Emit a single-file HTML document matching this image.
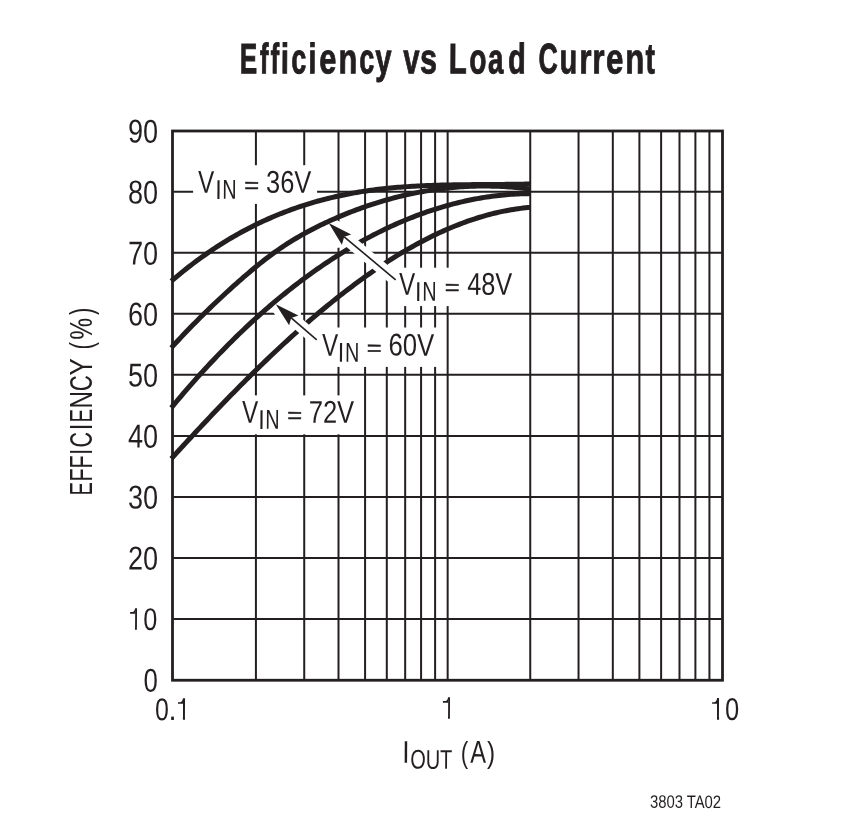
<!DOCTYPE html>
<html><head><meta charset="utf-8"><style>
html,body{margin:0;padding:0;background:#fff;width:857px;height:825px;overflow:hidden}
svg{display:block;will-change:transform}
text{font-family:"Liberation Sans",sans-serif}
</style></head><body><svg width="857" height="825" viewBox="0 0 857 825"><g stroke="#231f20" stroke-width="2"><line x1="255.92" y1="130.70" x2="255.92" y2="680.06"/><line x1="304.22" y1="130.70" x2="304.22" y2="680.06"/><line x1="338.50" y1="130.70" x2="338.50" y2="680.06"/><line x1="365.08" y1="130.70" x2="365.08" y2="680.06"/><line x1="386.80" y1="130.70" x2="386.80" y2="680.06"/><line x1="405.17" y1="130.70" x2="405.17" y2="680.06"/><line x1="421.08" y1="130.70" x2="421.08" y2="680.06"/><line x1="435.11" y1="130.70" x2="435.11" y2="680.06"/><line x1="447.66" y1="130.70" x2="447.66" y2="680.06"/><line x1="530.24" y1="130.70" x2="530.24" y2="680.06"/><line x1="578.54" y1="130.70" x2="578.54" y2="680.06"/><line x1="612.82" y1="130.70" x2="612.82" y2="680.06"/><line x1="639.40" y1="130.70" x2="639.40" y2="680.06"/><line x1="661.12" y1="130.70" x2="661.12" y2="680.06"/><line x1="679.49" y1="130.70" x2="679.49" y2="680.06"/><line x1="695.40" y1="130.70" x2="695.40" y2="680.06"/><line x1="709.43" y1="130.70" x2="709.43" y2="680.06"/><line x1="173.34" y1="619.02" x2="721.98" y2="619.02"/><line x1="173.34" y1="557.98" x2="721.98" y2="557.98"/><line x1="173.34" y1="496.94" x2="721.98" y2="496.94"/><line x1="173.34" y1="435.90" x2="721.98" y2="435.90"/><line x1="173.34" y1="374.86" x2="721.98" y2="374.86"/><line x1="173.34" y1="313.82" x2="721.98" y2="313.82"/><line x1="173.34" y1="252.78" x2="721.98" y2="252.78"/><line x1="173.34" y1="191.74" x2="721.98" y2="191.74"/></g><rect x="193.1" y="165.2" width="124.0" height="38.7" fill="#fff"/><rect x="390.0" y="267.7" width="130.0" height="38.4" fill="#fff"/><rect x="306.0" y="327.5" width="134.0" height="39.4" fill="#fff"/><rect x="236.0" y="395.4" width="124.0" height="38.9" fill="#fff"/><path d="M171.30,458.71 L173.71,456.06 L176.12,453.41 L178.53,450.78 L180.94,448.14 L183.35,445.52 L185.76,442.90 L188.17,440.29 L190.58,437.68 L192.98,435.09 L195.39,432.50 L197.80,429.91 L200.21,427.34 L202.62,424.77 L205.03,422.21 L207.44,419.66 L209.85,417.11 L212.26,414.58 L214.67,412.05 L217.08,409.53 L219.49,407.02 L221.90,404.52 L224.31,402.03 L226.72,399.54 L229.13,397.07 L231.53,394.60 L233.94,392.15 L236.35,389.70 L238.76,387.27 L241.17,384.84 L243.58,382.42 L245.99,380.02 L248.40,377.62 L250.81,375.24 L253.22,372.86 L255.63,370.50 L258.04,368.15 L260.45,365.80 L262.86,363.47 L265.27,361.15 L267.68,358.85 L270.09,356.55 L272.49,354.26 L274.90,351.99 L277.31,349.73 L279.72,347.48 L282.13,345.25 L284.54,343.02 L286.95,340.81 L289.36,338.61 L291.77,336.43 L294.18,334.26 L296.59,332.10 L299.00,329.95 L301.41,327.82 L303.82,325.70 L306.23,323.59 L308.64,321.50 L311.04,319.42 L313.45,317.36 L315.86,315.31 L318.27,313.28 L320.68,311.26 L323.09,309.25 L325.50,307.26 L327.91,305.29 L330.32,303.33 L332.73,301.38 L335.14,299.45 L337.55,297.54 L339.96,295.64 L342.37,293.76 L344.78,291.89 L347.19,290.04 L349.60,288.21 L352.00,286.39 L354.41,284.59 L356.82,282.80 L359.23,281.03 L361.64,279.28 L364.05,277.55 L366.46,275.83 L368.87,274.14 L371.28,272.45 L373.69,270.79 L376.10,269.15 L378.51,267.52 L380.92,265.91 L383.33,264.32 L385.74,262.74 L388.15,261.19 L390.56,259.65 L392.96,258.14 L395.37,256.64 L397.78,255.16 L400.19,253.70 L402.60,252.26 L405.01,250.84 L407.42,249.44 L409.83,248.06 L412.24,246.70 L414.65,245.35 L417.06,244.03 L419.47,242.73 L421.88,241.45 L424.29,240.19 L426.70,238.96 L429.11,237.74 L431.51,236.54 L433.92,235.37 L436.33,234.21 L438.74,233.08 L441.15,231.97 L443.56,230.88 L445.97,229.81 L448.38,228.77 L450.79,227.74 L453.20,226.74 L455.61,225.77 L458.02,224.81 L460.43,223.88 L462.84,222.97 L465.25,222.08 L467.66,221.22 L470.07,220.38 L472.47,219.56 L474.88,218.77 L477.29,218.00 L479.70,217.26 L482.11,216.53 L484.52,215.84 L486.93,215.17 L489.34,214.52 L491.75,213.89 L494.16,213.30 L496.57,212.72 L498.98,212.17 L501.39,211.65 L503.80,211.15 L506.21,210.68 L508.62,210.23 L511.02,209.81 L513.43,209.41 L515.84,209.04 L518.25,208.70 L520.66,208.38 L523.07,208.09 L525.48,207.83 L527.89,207.59 L530.30,207.38" fill="none" stroke="#231f20" stroke-width="5"/><path d="M275.78,304.34 L298.40,315.43 L291.20,317.90 L289.10,325.19 Z" fill="#fff" stroke="#fff" stroke-width="12.60" stroke-linejoin="bevel"/><line x1="291.20" y1="317.90" x2="316.76" y2="339.79" stroke="#fff" stroke-width="12.60"/><path d="M275.78,304.34 L298.40,315.43 L291.20,317.90 L289.10,325.19 Z" fill="#231f20"/><line x1="291.20" y1="317.90" x2="316.76" y2="339.79" stroke="#231f20" stroke-width="1.6"/><path d="M171.30,407.79 L173.71,404.88 L176.12,401.99 L178.53,399.12 L180.94,396.28 L183.35,393.45 L185.76,390.65 L188.17,387.86 L190.58,385.10 L192.98,382.36 L195.39,379.65 L197.80,376.95 L200.21,374.27 L202.62,371.62 L205.03,368.99 L207.44,366.37 L209.85,363.78 L212.26,361.21 L214.67,358.66 L217.08,356.14 L219.49,353.63 L221.90,351.14 L224.31,348.68 L226.72,346.23 L229.13,343.81 L231.53,341.41 L233.94,339.02 L236.35,336.66 L238.76,334.32 L241.17,332.00 L243.58,329.70 L245.99,327.42 L248.40,325.16 L250.81,322.92 L253.22,320.71 L255.63,318.51 L258.04,316.33 L260.45,314.17 L262.86,312.04 L265.27,309.92 L267.68,307.82 L270.09,305.74 L272.49,303.69 L274.90,301.65 L277.31,299.63 L279.72,297.64 L282.13,295.66 L284.54,293.70 L286.95,291.76 L289.36,289.85 L291.77,287.95 L294.18,286.07 L296.59,284.21 L299.00,282.37 L301.41,280.55 L303.82,278.75 L306.23,276.97 L308.64,275.21 L311.04,273.47 L313.45,271.75 L315.86,270.04 L318.27,268.36 L320.68,266.69 L323.09,265.05 L325.50,263.42 L327.91,261.81 L330.32,260.22 L332.73,258.65 L335.14,257.10 L337.55,255.57 L339.96,254.06 L342.37,252.57 L344.78,251.09 L347.19,249.63 L349.60,248.20 L352.00,246.78 L354.41,245.38 L356.82,244.00 L359.23,242.63 L361.64,241.29 L364.05,239.96 L366.46,238.65 L368.87,237.36 L371.28,236.09 L373.69,234.84 L376.10,233.61 L378.51,232.39 L380.92,231.19 L383.33,230.02 L385.74,228.86 L388.15,227.71 L390.56,226.59 L392.96,225.49 L395.37,224.40 L397.78,223.33 L400.19,222.28 L402.60,221.25 L405.01,220.24 L407.42,219.25 L409.83,218.28 L412.24,217.32 L414.65,216.38 L417.06,215.46 L419.47,214.56 L421.88,213.68 L424.29,212.82 L426.70,211.98 L429.11,211.15 L431.51,210.35 L433.92,209.56 L436.33,208.79 L438.74,208.04 L441.15,207.31 L443.56,206.60 L445.97,205.91 L448.38,205.23 L450.79,204.58 L453.20,203.94 L455.61,203.32 L458.02,202.72 L460.43,202.14 L462.84,201.58 L465.25,201.04 L467.66,200.52 L470.07,200.01 L472.47,199.53 L474.88,199.06 L477.29,198.61 L479.70,198.18 L482.11,197.77 L484.52,197.38 L486.93,197.01 L489.34,196.66 L491.75,196.33 L494.16,196.01 L496.57,195.72 L498.98,195.44 L501.39,195.19 L503.80,194.95 L506.21,194.73 L508.62,194.53 L511.02,194.35 L513.43,194.19 L515.84,194.05 L518.25,193.92 L520.66,193.82 L523.07,193.74 L525.48,193.67 L527.89,193.63 L530.30,193.60" fill="none" stroke="#231f20" stroke-width="5"/><path d="M328.69,223.02 L351.20,234.43 L344.20,236.80 L341.89,244.79 Z" fill="#fff" stroke="#fff" stroke-width="12.60" stroke-linejoin="bevel"/><line x1="344.20" y1="236.80" x2="395.66" y2="279.89" stroke="#fff" stroke-width="12.60"/><path d="M328.69,223.02 L351.20,234.43 L344.20,236.80 L341.89,244.79 Z" fill="#231f20"/><line x1="344.20" y1="236.80" x2="395.66" y2="279.89" stroke="#231f20" stroke-width="1.6"/><path d="M171.30,347.81 L173.71,345.16 L176.12,342.53 L178.53,339.93 L180.94,337.36 L183.35,334.81 L185.76,332.29 L188.17,329.79 L190.58,327.31 L192.98,324.85 L195.39,322.41 L197.80,319.99 L200.21,317.59 L202.62,315.20 L205.03,312.83 L207.44,310.48 L209.85,308.14 L212.26,305.82 L214.67,303.52 L217.08,301.23 L219.49,298.96 L221.90,296.71 L224.31,294.47 L226.72,292.25 L229.13,290.04 L231.53,287.85 L233.94,285.68 L236.35,283.53 L238.76,281.39 L241.17,279.27 L243.58,277.17 L245.99,275.09 L248.40,273.03 L250.81,270.99 L253.22,268.98 L255.63,266.99 L258.04,265.02 L260.45,263.09 L262.86,261.18 L265.27,259.31 L267.68,257.46 L270.09,255.65 L272.49,253.87 L274.90,252.13 L277.31,250.43 L279.72,248.76 L282.13,247.13 L284.54,245.52 L286.95,243.96 L289.36,242.42 L291.77,240.92 L294.18,239.44 L296.59,238.00 L299.00,236.58 L301.41,235.20 L303.82,233.84 L306.23,232.51 L308.64,231.21 L311.04,229.93 L313.45,228.68 L315.86,227.45 L318.27,226.25 L320.68,225.06 L323.09,223.91 L325.50,222.77 L327.91,221.65 L330.32,220.55 L332.73,219.48 L335.14,218.42 L337.55,217.38 L339.96,216.36 L342.37,215.35 L344.78,214.36 L347.19,213.39 L349.60,212.44 L352.00,211.50 L354.41,210.58 L356.82,209.68 L359.23,208.79 L361.64,207.92 L364.05,207.07 L366.46,206.23 L368.87,205.42 L371.28,204.61 L373.69,203.83 L376.10,203.06 L378.51,202.31 L380.92,201.58 L383.33,200.86 L385.74,200.16 L388.15,199.48 L390.56,198.82 L392.96,198.17 L395.37,197.54 L397.78,196.92 L400.19,196.32 L402.60,195.74 L405.01,195.18 L407.42,194.63 L409.83,194.10 L412.24,193.59 L414.65,193.09 L417.06,192.61 L419.47,192.15 L421.88,191.71 L424.29,191.28 L426.70,190.87 L429.11,190.47 L431.51,190.09 L433.92,189.73 L436.33,189.39 L438.74,189.06 L441.15,188.75 L443.56,188.46 L445.97,188.18 L448.38,187.92 L450.79,187.68 L453.20,187.45 L455.61,187.25 L458.02,187.05 L460.43,186.88 L462.84,186.72 L465.25,186.58 L467.66,186.45 L470.07,186.34 L472.47,186.25 L474.88,186.18 L477.29,186.12 L479.70,186.08 L482.11,186.05 L484.52,186.05 L486.93,186.06 L489.34,186.08 L491.75,186.13 L494.16,186.18 L496.57,186.26 L498.98,186.35 L501.39,186.46 L503.80,186.59 L506.21,186.73 L508.62,186.89 L511.02,187.07 L513.43,187.26 L515.84,187.47 L518.25,187.70 L520.66,187.94 L523.07,188.21 L525.48,188.48 L527.89,188.78 L530.30,189.09" fill="none" stroke="#231f20" stroke-width="5"/><path d="M171.30,281.18 L173.71,279.12 L176.12,277.08 L178.53,275.08 L180.94,273.10 L183.35,271.15 L185.76,269.23 L188.17,267.33 L190.58,265.47 L192.98,263.63 L195.39,261.82 L197.80,260.03 L200.21,258.28 L202.62,256.54 L205.03,254.84 L207.44,253.16 L209.85,251.51 L212.26,249.88 L214.67,248.28 L217.08,246.70 L219.49,245.15 L221.90,243.63 L224.31,242.13 L226.72,240.65 L229.13,239.20 L231.53,237.77 L233.94,236.37 L236.35,234.99 L238.76,233.63 L241.17,232.30 L243.58,230.99 L245.99,229.71 L248.40,228.44 L250.81,227.21 L253.22,225.99 L255.63,224.79 L258.04,223.62 L260.45,222.47 L262.86,221.34 L265.27,220.24 L267.68,219.15 L270.09,218.09 L272.49,217.05 L274.90,216.03 L277.31,215.02 L279.72,214.04 L282.13,213.09 L284.54,212.15 L286.95,211.23 L289.36,210.33 L291.77,209.45 L294.18,208.59 L296.59,207.75 L299.00,206.92 L301.41,206.12 L303.82,205.34 L306.23,204.57 L308.64,203.82 L311.04,203.09 L313.45,202.38 L315.86,201.69 L318.27,201.01 L320.68,200.36 L323.09,199.72 L325.50,199.09 L327.91,198.48 L330.32,197.89 L332.73,197.32 L335.14,196.76 L337.55,196.22 L339.96,195.70 L342.37,195.19 L344.78,194.69 L347.19,194.21 L349.60,193.75 L352.00,193.30 L354.41,192.87 L356.82,192.45 L359.23,192.04 L361.64,191.65 L364.05,191.28 L366.46,190.91 L368.87,190.57 L371.28,190.23 L373.69,189.91 L376.10,189.60 L378.51,189.30 L380.92,189.02 L383.33,188.74 L385.74,188.48 L388.15,188.23 L390.56,188.00 L392.96,187.77 L395.37,187.55 L397.78,187.35 L400.19,187.15 L402.60,186.96 L405.01,186.79 L407.42,186.62 L409.83,186.46 L412.24,186.31 L414.65,186.17 L417.06,186.04 L419.47,185.91 L421.88,185.79 L424.29,185.68 L426.70,185.58 L429.11,185.49 L431.51,185.40 L433.92,185.31 L436.33,185.24 L438.74,185.16 L441.15,185.10 L443.56,185.04 L445.97,184.98 L448.38,184.93 L450.79,184.88 L453.20,184.84 L455.61,184.80 L458.02,184.76 L460.43,184.73 L462.84,184.70 L465.25,184.68 L467.66,184.65 L470.07,184.63 L472.47,184.61 L474.88,184.59 L477.29,184.57 L479.70,184.56 L482.11,184.54 L484.52,184.53 L486.93,184.51 L489.34,184.50 L491.75,184.48 L494.16,184.47 L496.57,184.45 L498.98,184.43 L501.39,184.42 L503.80,184.39 L506.21,184.37 L508.62,184.35 L511.02,184.32 L513.43,184.29 L515.84,184.26 L518.25,184.22 L520.66,184.18 L523.07,184.14 L525.48,184.09 L527.89,184.04 L530.30,183.98" fill="none" stroke="#231f20" stroke-width="5"/><rect x="172.50" y="131.00" width="550.00" height="549.25" fill="none" stroke="#231f20" stroke-width="2.8"/><g fill="#231f20" stroke="#fff" stroke-width="0.00"><text transform="translate(239.88,73.25) rotate(0.30 9.12 -15) scale(0.6129,1)" font-size="42.54" font-weight="bold" stroke="#231f20" stroke-width="0.80" style="vector-effect:non-scaling-stroke">E</text><text transform="translate(259.78,73.25) rotate(0.30 4.57 -15) scale(0.6143,1)" font-size="42.54" font-weight="bold" stroke="#231f20" stroke-width="0.80" style="vector-effect:non-scaling-stroke">f</text><text transform="translate(270.58,73.25) rotate(0.30 4.52 -15) scale(0.6067,1)" font-size="42.54" font-weight="bold" stroke="#231f20" stroke-width="0.80" style="vector-effect:non-scaling-stroke">f</text><text transform="translate(280.95,73.25) rotate(0.30 4.10 -15) scale(0.6885,1)" font-size="42.54" font-weight="bold" stroke="#231f20" stroke-width="0.80" style="vector-effect:non-scaling-stroke">i</text><text transform="translate(291.32,73.25) rotate(0.30 7.68 -15) scale(0.6333,1)" font-size="42.54" font-weight="bold" stroke="#231f20" stroke-width="0.80" style="vector-effect:non-scaling-stroke">c</text><text transform="translate(308.45,73.25) rotate(0.30 4.10 -15) scale(0.6885,1)" font-size="42.54" font-weight="bold" stroke="#231f20" stroke-width="0.80" style="vector-effect:non-scaling-stroke">i</text><text transform="translate(319.27,73.25) rotate(0.30 8.58 -15) scale(0.7200,1)" font-size="42.54" font-weight="bold" stroke="#231f20" stroke-width="0.80" style="vector-effect:non-scaling-stroke">e</text><text transform="translate(338.46,73.25) rotate(0.30 9.49 -15) scale(0.7200,1)" font-size="42.54" font-weight="bold" stroke="#231f20" stroke-width="0.80" style="vector-effect:non-scaling-stroke">n</text><text transform="translate(359.42,73.25) rotate(0.30 7.68 -15) scale(0.6333,1)" font-size="42.54" font-weight="bold" stroke="#231f20" stroke-width="0.80" style="vector-effect:non-scaling-stroke">c</text><text transform="translate(375.41,73.25) rotate(0.30 8.14 -15) scale(0.6835,1)" font-size="42.54" font-weight="bold" stroke="#231f20" stroke-width="0.80" style="vector-effect:non-scaling-stroke">y</text><text transform="translate(403.41,73.25) rotate(0.30 8.14 -15) scale(0.6835,1)" font-size="42.54" font-weight="bold" stroke="#231f20" stroke-width="0.80" style="vector-effect:non-scaling-stroke">v</text><text transform="translate(420.18,73.25) rotate(0.30 8.37 -15) scale(0.7153,1)" font-size="42.54" font-weight="bold" stroke="#231f20" stroke-width="0.80" style="vector-effect:non-scaling-stroke">s</text><text transform="translate(448.94,73.25) rotate(0.30 9.56 -15) scale(0.6915,1)" font-size="42.54" font-weight="bold" stroke="#231f20" stroke-width="0.80" style="vector-effect:non-scaling-stroke">L</text><text transform="translate(469.28,73.25) rotate(0.30 8.57 -15) scale(0.6609,1)" font-size="42.54" font-weight="bold" stroke="#231f20" stroke-width="0.80" style="vector-effect:non-scaling-stroke">o</text><text transform="translate(488.17,73.25) rotate(0.30 8.18 -15) scale(0.6521,1)" font-size="42.54" font-weight="bold" stroke="#231f20" stroke-width="0.80" style="vector-effect:non-scaling-stroke">a</text><text transform="translate(508.04,73.25) rotate(0.30 8.41 -15) scale(0.6818,1)" font-size="42.54" font-weight="bold" stroke="#231f20" stroke-width="0.80" style="vector-effect:non-scaling-stroke">d</text><text transform="translate(538.54,73.25) rotate(0.30 9.71 -15) scale(0.6257,1)" font-size="42.54" font-weight="bold" stroke="#231f20" stroke-width="0.80" style="vector-effect:non-scaling-stroke">C</text><text transform="translate(559.66,73.25) rotate(0.30 8.69 -15) scale(0.6808,1)" font-size="42.54" font-weight="bold" stroke="#231f20" stroke-width="0.80" style="vector-effect:non-scaling-stroke">u</text><text transform="translate(579.21,73.25) rotate(0.30 6.89 -15) scale(0.7366,1)" font-size="42.54" font-weight="bold" stroke="#231f20" stroke-width="0.80" style="vector-effect:non-scaling-stroke">r</text><text transform="translate(592.31,73.25) rotate(0.30 6.89 -15) scale(0.7366,1)" font-size="42.54" font-weight="bold" stroke="#231f20" stroke-width="0.80" style="vector-effect:non-scaling-stroke">r</text><text transform="translate(606.06,73.25) rotate(0.30 8.69 -15) scale(0.7298,1)" font-size="42.54" font-weight="bold" stroke="#231f20" stroke-width="0.80" style="vector-effect:non-scaling-stroke">e</text><text transform="translate(625.43,73.25) rotate(0.30 9.62 -15) scale(0.7298,1)" font-size="42.54" font-weight="bold" stroke="#231f20" stroke-width="0.80" style="vector-effect:non-scaling-stroke">n</text><text transform="translate(645.62,73.25) rotate(0.30 4.63 -15) scale(0.6598,1)" font-size="42.54" font-weight="bold" stroke="#231f20" stroke-width="0.80" style="vector-effect:non-scaling-stroke">t</text><text transform="translate(127.95,569.71) rotate(0.30 16.85 -11.43) scale(0.8139,1)" font-size="33.13" font-weight="normal">20</text><text transform="translate(127.95,508.70) rotate(0.30 16.85 -11.43) scale(0.8139,1)" font-size="33.13" font-weight="normal">30</text><text transform="translate(127.95,447.69) rotate(0.30 16.85 -11.43) scale(0.8139,1)" font-size="33.13" font-weight="normal">40</text><text transform="translate(127.95,386.68) rotate(0.30 16.85 -11.43) scale(0.8139,1)" font-size="33.13" font-weight="normal">50</text><text transform="translate(127.95,325.67) rotate(0.30 16.85 -11.43) scale(0.8139,1)" font-size="33.13" font-weight="normal">60</text><text transform="translate(127.95,264.66) rotate(0.30 16.85 -11.43) scale(0.8139,1)" font-size="33.13" font-weight="normal">70</text><text transform="translate(127.95,203.65) rotate(0.30 16.85 -11.43) scale(0.8139,1)" font-size="33.13" font-weight="normal">80</text><text transform="translate(127.95,142.64) rotate(0.30 16.85 -11.43) scale(0.8139,1)" font-size="33.13" font-weight="normal">90</text><text transform="translate(129.72,629.70) rotate(0.30 5.28 -10.85) scale(0.6713,1)" font-size="31.45">1</text><rect x="130.57" y="606.74" width="4.43" height="24.16" fill="#fff" stroke="none"/><rect x="136.90" y="626.87" width="4.64" height="4.03" fill="#fff" stroke="none"/><path d="M130.10,612.12 L132.40,612.12 Q134.70,611.52 135.20,608.00 L135.20,613.69 L130.10,613.69 Z" stroke="none"/><text transform="translate(143.19,629.99) rotate(0.30 7.06 -11.15) scale(0.8026,1)" font-size="31.41" font-weight="normal">0</text><text transform="translate(143.58,691.73) rotate(0.30 1.32 -11.43) scale(0.7732,1)" font-size="33.13" font-weight="normal">0</text><text transform="translate(155.11,720.18) rotate(0.30 6.94 -11.20) scale(0.7858,1)" font-size="31.55" font-weight="normal">0</text><text transform="translate(168.49,720.00) scale(0.9206,1)" font-size="31.50">.</text><text transform="translate(177.07,719.80) rotate(0.30 5.83 -10.85) scale(0.7419,1)" font-size="31.45">1</text><rect x="178.00" y="696.84" width="4.90" height="24.16" fill="#fff" stroke="none"/><rect x="185.00" y="716.97" width="5.13" height="4.03" fill="#fff" stroke="none"/><path d="M178.00,702.22 L180.30,702.22 Q182.60,701.62 183.10,698.10 L183.10,703.79 L178.00,703.79 Z" stroke="none"/><text transform="translate(442.72,718.70) rotate(0.30 5.28 -10.85) scale(0.6713,1)" font-size="31.45">1</text><rect x="443.57" y="695.74" width="4.43" height="24.16" fill="#fff" stroke="none"/><rect x="449.90" y="715.87" width="4.64" height="4.03" fill="#fff" stroke="none"/><path d="M442.90,701.12 L445.40,701.12 Q447.70,700.52 448.20,697.00 L448.20,702.69 L442.90,702.69 Z" stroke="none"/><text transform="translate(711.17,719.80) rotate(0.30 5.83 -10.90) scale(0.7385,1)" font-size="31.59">1</text><rect x="712.10" y="696.74" width="4.90" height="24.26" fill="#fff" stroke="none"/><rect x="719.10" y="716.96" width="5.13" height="4.04" fill="#fff" stroke="none"/><path d="M712.10,702.14 L714.40,702.14 Q716.70,701.54 717.20,698.00 L717.20,703.71 L712.10,703.71 Z" stroke="none"/><text transform="translate(725.08,719.99) rotate(0.30 7.12 -11.15) scale(0.8092,1)" font-size="31.41" font-weight="normal">0</text><text transform="translate(650.01,807.90) rotate(0.30 35.49 -6.25) scale(0.8180,1)" font-size="18.12" font-weight="normal">3803 TA02</text><text transform="translate(402.26,762.70) rotate(0.30 3.64 -10.80) scale(0.8306,1)" font-size="31.30" font-weight="normal">I</text><text transform="translate(410.20,768.70) rotate(0.30 21.35 -9.30) scale(0.7401,1)" font-size="26.96" font-weight="normal">OUT</text><text transform="translate(460.86,762.80) rotate(0.30 4.24 -14.10) scale(0.7436,1)" font-size="30.00">(</text><text transform="translate(470.40,762.80) rotate(0.30 7.80 -10.95) scale(0.7447,1)" font-size="31.74">A</text><text transform="translate(487.16,762.80) rotate(0.30 3.39 -14.10) scale(0.8077,1)" font-size="30.00">)</text><text transform="translate(198.06,192.80) rotate(0.30 8.09 -10.85) scale(0.7680,1)" font-size="31.45" font-weight="normal">V</text><text transform="translate(215.23,198.90) rotate(0.30 3.22 -9.45) scale(0.8397,1)" font-size="27.39" font-weight="normal">I</text><text transform="translate(222.41,198.90) rotate(0.30 7.14 -9.45) scale(0.7236,1)" font-size="27.39" font-weight="normal">N</text><text transform="translate(244.18,192.46) rotate(0.3 6 -7) scale(0.2542,0.2125)" font-size="100" stroke="#231f20" stroke-width="0.50" style="vector-effect:non-scaling-stroke">=</text><text transform="translate(266.08,192.80) rotate(0.30 22.97 -10.85) scale(0.8069,1)" font-size="31.45" font-weight="normal">36V</text><text transform="translate(399.06,294.80) rotate(0.30 8.09 -10.85) scale(0.7680,1)" font-size="31.45" font-weight="normal">V</text><text transform="translate(415.03,300.90) rotate(0.30 3.22 -9.45) scale(0.8397,1)" font-size="27.39" font-weight="normal">I</text><text transform="translate(422.21,300.90) rotate(0.30 7.14 -9.45) scale(0.7236,1)" font-size="27.39" font-weight="normal">N</text><text transform="translate(444.78,294.46) rotate(0.3 6 -7) scale(0.2542,0.2125)" font-size="100" stroke="#231f20" stroke-width="0.50" style="vector-effect:non-scaling-stroke">=</text><text transform="translate(467.19,294.80) rotate(0.30 22.61 -10.85) scale(0.8031,1)" font-size="31.45" font-weight="normal">48V</text><text transform="translate(321.96,355.70) rotate(0.30 8.09 -10.85) scale(0.7680,1)" font-size="31.45" font-weight="normal">V</text><text transform="translate(337.83,361.80) rotate(0.30 3.22 -9.45) scale(0.8397,1)" font-size="27.39" font-weight="normal">I</text><text transform="translate(345.01,361.80) rotate(0.30 7.14 -9.45) scale(0.7236,1)" font-size="27.39" font-weight="normal">N</text><text transform="translate(366.88,355.36) rotate(0.3 6 -7) scale(0.2542,0.2125)" font-size="100" stroke="#231f20" stroke-width="0.50" style="vector-effect:non-scaling-stroke">=</text><text transform="translate(388.52,355.70) rotate(0.30 23.33 -10.85) scale(0.8153,1)" font-size="31.45" font-weight="normal">60V</text><text transform="translate(241.96,422.80) rotate(0.30 8.09 -10.85) scale(0.7680,1)" font-size="31.45" font-weight="normal">V</text><text transform="translate(258.23,428.90) rotate(0.30 3.22 -9.45) scale(0.8397,1)" font-size="27.39" font-weight="normal">I</text><text transform="translate(265.41,428.90) rotate(0.30 7.14 -9.45) scale(0.7236,1)" font-size="27.39" font-weight="normal">N</text><text transform="translate(287.28,422.46) rotate(0.3 6 -7) scale(0.2542,0.2125)" font-size="100" stroke="#231f20" stroke-width="0.50" style="vector-effect:non-scaling-stroke">=</text><text transform="translate(308.93,422.80) rotate(0.30 23.12 -10.85) scale(0.8079,1)" font-size="31.45" font-weight="normal">72V</text><g transform="translate(92.0,0) rotate(-90)"><text transform="translate(-495.41,0) scale(0.6331,1)" font-size="31.88">E</text><text transform="translate(-481.53,0) scale(0.6785,1)" font-size="31.88">F</text><text transform="translate(-468.53,0) scale(0.6785,1)" font-size="31.88">F</text><text transform="translate(-454.79,0) scale(0.6586,1)" font-size="31.88">I</text><text transform="translate(-447.58,0) scale(0.6771,1)" font-size="31.88">C</text><text transform="translate(-430.16,0) scale(0.7527,1)" font-size="31.88">I</text><text transform="translate(-422.43,0) scale(0.6389,1)" font-size="31.88">E</text><text transform="translate(-408.43,0) scale(0.7561,1)" font-size="31.88">N</text><text transform="translate(-391.31,0) scale(0.6970,1)" font-size="31.88">C</text><text transform="translate(-375.48,0) scale(0.8124,1)" font-size="31.88">Y</text><text transform="translate(-349.54,0) scale(0.6997,1)" font-size="31.88">(</text><text transform="translate(-339.79,0) scale(0.7744,1)" font-size="31.88">%</text><text transform="translate(-315.02,0) scale(0.6876,1)" font-size="31.88">)</text></g></g></svg></body></html>
